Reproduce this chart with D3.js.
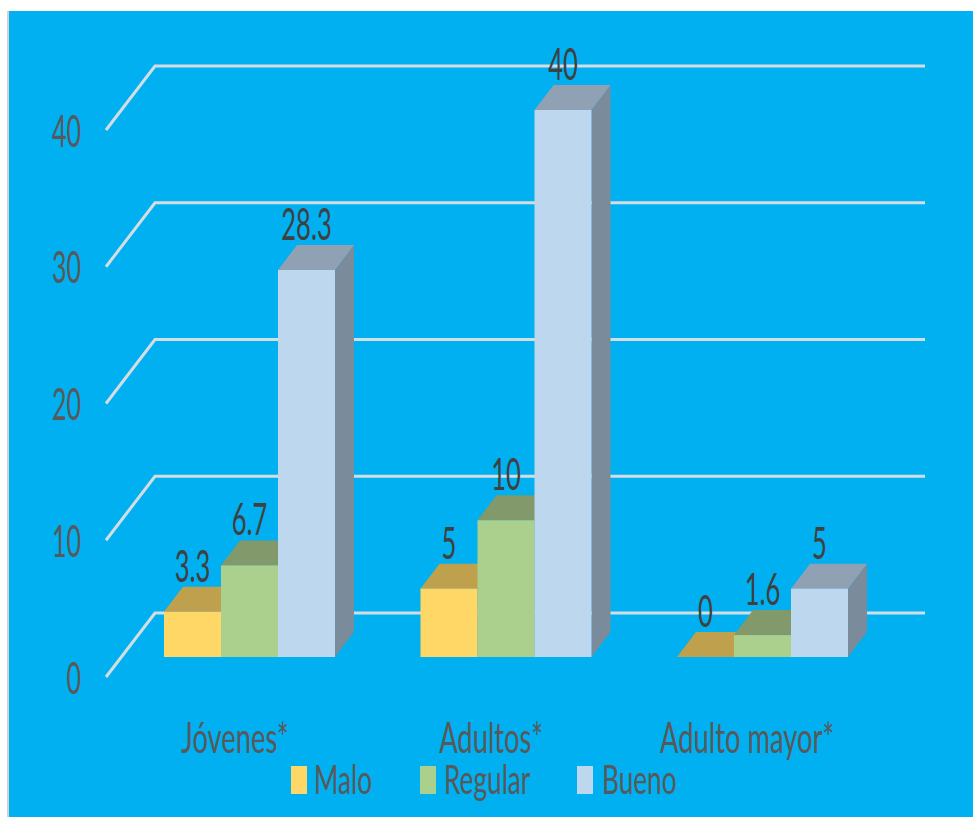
<!DOCTYPE html>
<html>
<head>
<meta charset="utf-8">
<script src="https://cdn.jsdelivr.net/npm/d3@7/dist/d3.min.js"></script>
<style>
html,body{margin:0;padding:0;background:#fff}
svg{display:block}
text{font-family:Lato,"Open Sans",sans-serif}
</style>
</head>
<body>
<svg id="chart" width="973" height="817"></svg>
<script>
const categories = ["Jóvenes*", "Adultos*", "Adulto mayor*"];
const seriesNames = ["Malo", "Regular", "Bueno"];
const malo = [3.3, 5, 0];
const regular = [6.7, 10, 1.6];
const bueno = [28.3, 40, 5];
const valueTicks = [0, 10, 20, 30, 40];

const faceColors = ["#ffd766", "#abd08e", "#bdd7ee"];
const topColors = ["#bfa14d", "#81996b", "#8fa1b3"];
const sideColors = ["#9a8240", "#6d8258", "#7a8b9b"];

const svg = d3.select("#chart");
const W = 973, H = 817;

// Bar depth and back-wall depth of the 3D projection
const depth = {x: 19, y: -25};
const wall = {x: 49, y: -64, drop: 20};

const y = d3.scaleLinear().domain([0, 40]).range([657, 110]);
const groupX = d3.scalePoint().domain(categories).range([164, 677]);
const barWidth = 57;
const barX = d3.scaleBand().domain(seriesNames).range([0, barWidth * 3]);

// Panel: white page, thin pale edge on the left, blue field
svg.append("rect").attr("width", W).attr("height", H).attr("fill", "#ffffff");
svg.append("rect").attr("x", 7).attr("y", 11).attr("width", 3).attr("height", H - 11).attr("fill", "#d2d2d2");
svg.append("rect").attr("x", 9).attr("y", 11).attr("width", W - 9).attr("height", H - 11).attr("fill", "#00b0f0");

// Wall gridlines
const gridGroup = svg.append("g").attr("fill", "none").attr("stroke", "#d3dde2").attr("stroke-width", 3);
const wallY = v => y(v) + wall.drop;
gridGroup.selectAll("path").data(valueTicks).join("path")
  .attr("d", v => {
    const p = d3.path();
    p.moveTo(106, wallY(v));
    p.lineTo(106 + wall.x, wallY(v) + wall.y);
    p.lineTo(925, wallY(v) + wall.y);
    return p.toString();
  });

// Labels are set in a narrow, tall cut of the typeface
const stretched = (sel, sx, sy) => sel.attr("transform", function() {
  const px = +this.getAttribute("data-x"), py = +this.getAttribute("data-y");
  return `translate(${px},${py}) scale(${sx},${sy})`;
});
svg.append("g").selectAll("text").data(valueTicks).join("text")
  .attr("data-x", 81).attr("data-y", v => wallY(v) + 16.5)
  .attr("text-anchor", "end").attr("font-size", 38).attr("fill", "#595959")
  .text(v => v).call(stretched, 0.66, 1.18);

// Bars: back to front so neighbouring faces overlap correctly
const rows = categories.flatMap((c, i) => [malo[i], regular[i], bueno[i]].map((v, j) => ({
  cat: c, series: seriesNames[j], j, v
})));

const bars = svg.append("g").selectAll("g").data(rows).join("g");
const x0 = d => groupX(d.cat) + barX(d.series);
const poly = pts => pts.map(p => p.join(",")).join(" ");

bars.append("polygon").attr("fill", d => sideColors[d.j])
  .attr("points", d => {
    const xr = x0(d) + barWidth, t = y(d.v), b = y(0);
    return poly([[xr, t], [xr + depth.x, t + depth.y], [xr + depth.x, b + depth.y], [xr, b]]);
  });
bars.append("polygon").attr("fill", d => topColors[d.j])
  .attr("points", d => {
    const xl = x0(d), xr = xl + barWidth, t = y(d.v);
    return poly([[xl, t], [xr, t], [xr + depth.x, t + depth.y], [xl + depth.x, t + depth.y]]);
  });
bars.filter(d => d.v > 0).append("rect").attr("fill", d => faceColors[d.j])
  .attr("x", x0).attr("y", d => y(d.v))
  .attr("width", barWidth).attr("height", d => y(0) - y(d.v));

// Value labels above each bar
svg.append("g").selectAll("text").data(rows).join("text")
  .attr("data-x", d => x0(d) + barWidth / 2)
  .attr("data-y", d => y(d.v) + depth.y - 5)
  .attr("text-anchor", "middle").attr("font-size", 36).attr("fill", "#404040")
  .text(d => d.v).call(stretched, 0.71, 1.22);

// Category labels
const catLabelX = [235, 491, 747];
svg.append("g").selectAll("text").data(categories).join("text")
  .attr("data-x", (d, i) => catLabelX[i]).attr("data-y", 753)
  .attr("text-anchor", "middle").attr("font-size", 38).attr("fill", "#595959")
  .text(d => d).call(stretched, 0.72, 1.1);

// Legend
const legendSwatchX = [291, 420, 577];
const legendTextX = [314, 444, 602];
const legend = svg.append("g").selectAll("g").data(seriesNames).join("g");
legend.append("rect").attr("x", (d, i) => legendSwatchX[i]).attr("y", 766)
  .attr("width", 16).attr("height", 28).attr("fill", (d, i) => faceColors[i]);
legend.append("text")
  .attr("data-x", (d, i) => legendTextX[i]).attr("data-y", 794)
  .attr("font-size", 38).attr("fill", "#595959")
  .text(d => d).call(stretched, 0.69, 1.08);
</script>
</body>
</html>
